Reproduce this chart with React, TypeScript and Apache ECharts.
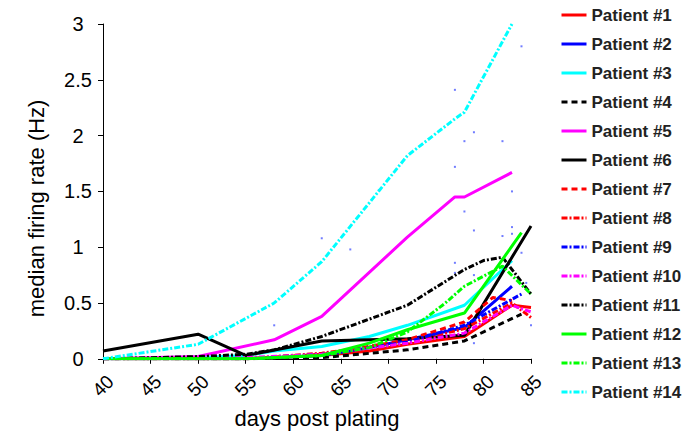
import React, { useEffect, useRef } from "react";
import * as echarts from "echarts";

const xTicks = [40, 45, 50, 55, 60, 65, 70, 75, 80, 85];
const yTicks = [0, 0.5, 1, 1.5, 2, 2.5, 3];

const patientNames = [
  "Patient #1", "Patient #2", "Patient #3", "Patient #4", "Patient #5", "Patient #6", "Patient #7",
  "Patient #8", "Patient #9", "Patient #10", "Patient #11", "Patient #12", "Patient #13", "Patient #14",
];

const p1 = [[40, 0], [50, 0], [55, 0], [58, 0.01], [63, 0.03], [68, 0.07], [72, 0.13], [78, 0.2], [83, 0.48], [85, 0.46]];
const p2 = [[40, 0], [55, 0], [63, 0.03], [68, 0.1], [72, 0.17], [78, 0.28], [83, 0.65]];
const p3 = [[40, 0], [50, 0.01], [55, 0.03], [58, 0.07], [63, 0.11], [68, 0.2], [72, 0.3], [78, 0.48], [83, 0.88]];
const p4 = [[40, 0], [55, 0], [63, 0.01], [72, 0.08], [78, 0.16], [84, 0.4]];
const p5 = [[40, 0], [50, 0.02], [58, 0.17], [63, 0.38], [72, 1.09], [77, 1.45], [78, 1.45], [83, 1.67]];
const p6 = [[40, 0.07], [50, 0.22], [55, 0.03], [63, 0.16], [72, 0.18], [78, 0.21], [85, 1.19]];
const p7 = [[40, 0], [55, 0], [63, 0.04], [72, 0.17], [78, 0.33], [81, 0.55], [83, 0.52]];
const p8 = [[40, 0], [55, 0], [63, 0.05], [72, 0.15], [78, 0.27], [83, 0.5], [85, 0.37]];
const p9 = [[40, 0], [55, 0], [63, 0.04], [72, 0.15], [78, 0.3], [84, 0.58]];
const p10 = [[40, 0], [50, 0.01], [55, 0.01], [63, 0.04], [72, 0.14], [78, 0.23], [83, 0.48], [85, 0.42]];
const p11 = [[40, 0], [50, 0.02], [55, 0.04], [58, 0.08], [63, 0.2], [72, 0.48], [78, 0.8], [80, 0.88], [82, 0.91], [85, 0.58]];
const p12 = [[40, 0], [55, 0], [63, 0.03], [68, 0.14], [72, 0.26], [78, 0.41], [84, 1.13]];
const p13 = [[40, 0], [55, 0], [63, 0.03], [68, 0.1], [72, 0.24], [76, 0.5], [78, 0.65], [82, 0.83], [85, 0.58]];
const p14 = [[40, 0], [50, 0.13], [58, 0.5], [63, 0.87], [72, 1.82], [77, 2.15], [78, 2.21], [83, 3.0]];

const scatterDots = [
  [84, 2.8], [77, 2.41], [79, 2.03], [78, 1.95], [82, 1.95], [77, 1.72], [69, 1.51], [83, 1.5],
  [78, 1.32], [63, 1.08], [66, 0.98], [79, 1.15], [83, 1.18], [82, 1.1], [84, 0.95], [77, 0.86],
  [77, 0.77], [79, 0.75], [84.5, 0.68], [77, 0.58], [85, 0.3], [79, 0.14], [58, 0.3], [83, 1.12], [80, 0.35],
];

const patientData = [p1, p2, p3, p4, p5, p6, p7, p8, p9, p10, p11, p12, p13, p14];

const RED = "#ff0000", BLUE = "#0000ff", CYAN = "#00ffff", BLACK = "#000000", MAG = "#ff00ff", GREEN = "#00ff00";
const colors = [RED, BLUE, CYAN, BLACK, MAG, BLACK, RED, RED, BLUE, MAG, BLACK, GREEN, GREEN, CYAN];
const DASH = [6, 4];
const DASHDOT = [6, 2, 2, 2];
const types: any[] = ["solid", "solid", "solid", DASH, "solid", "solid", DASH, DASHDOT, DASHDOT, DASHDOT, DASHDOT, "solid", DASHDOT, DASHDOT];

const FONT = "'Liberation Sans', Arial, Helvetica, sans-serif";

export default function App() {
  const ref = useRef<HTMLDivElement>(null);
  useEffect(() => {
    if (!ref.current) return;
    const chart = echarts.init(ref.current, null, { renderer: "svg" });
    const series: any[] = patientData.map((d, i) => ({
      name: patientNames[i],
      type: "line",
      data: d,
      symbol: "none",
      z: 3,
      lineStyle: { color: colors[i], width: 3, type: types[i] },
      itemStyle: { color: colors[i] },
    }));
    series.unshift({
      name: "dots",
      type: "scatter",
      data: scatterDots,
      symbol: "rect",
      symbolSize: 2,
      itemStyle: { color: "#3344ff", opacity: 0.7 },
      z: 2,
    });
    chart.setOption({
      animation: false,
      textStyle: { fontFamily: FONT },
      grid: { left: 103, top: 24, right: 156, bottom: 72 },
      legend: {
        data: patientNames,
        orient: "vertical",
        left: 555,
        top: 1,
        itemWidth: 25,
        itemHeight: 14,
        itemGap: 11,
        itemStyle: { opacity: 0, borderWidth: 0 },
        lineStyle: { width: 3 },
        textStyle: { fontSize: 17, fontWeight: "bold", color: "#222", fontFamily: FONT, lineHeight: 18 },
      },
      xAxis: {
        type: "value",
        min: 40,
        max: 85,
        interval: 5,
        name: "days post plating",
        nameLocation: "middle",
        nameGap: 47,
        nameTextStyle: { fontSize: 22, color: "#000", fontFamily: FONT },
        axisLine: { show: true, lineStyle: { color: "#000", width: 1 } },
        axisTick: { show: true, length: 5, lineStyle: { color: "#000" } },
        splitLine: { show: false },
        axisLabel: {
          rotate: 45, align: "center", verticalAlign: "middle", fontSize: 19, color: "#000", margin: 27,
          formatter: (v: number) => (xTicks.includes(v) ? String(v) : ""),
        },
      },
      yAxis: {
        type: "value",
        min: 0,
        max: 3,
        interval: 0.5,
        name: "median firing rate (Hz)",
        nameLocation: "middle",
        nameGap: 56,
        nameTextStyle: { fontSize: 22, color: "#000", fontFamily: FONT, padding: [0, 34, 0, 0] },
        axisLine: { show: true, lineStyle: { color: "#000", width: 1 } },
        axisTick: { show: true, length: 5, lineStyle: { color: "#000" } },
        splitLine: { show: false },
        axisLabel: {
          fontSize: 20, color: "#000", margin: 25, align: "center",
          formatter: (v: number) => (yTicks.includes(v) ? String(v) : ""),
        },
      },
      series,
    });
    return () => chart.dispose();
  }, []);
  return <div ref={ref} style={{ width: 687, height: 434, position: "absolute", left: 0, top: 0 }} />;
}
